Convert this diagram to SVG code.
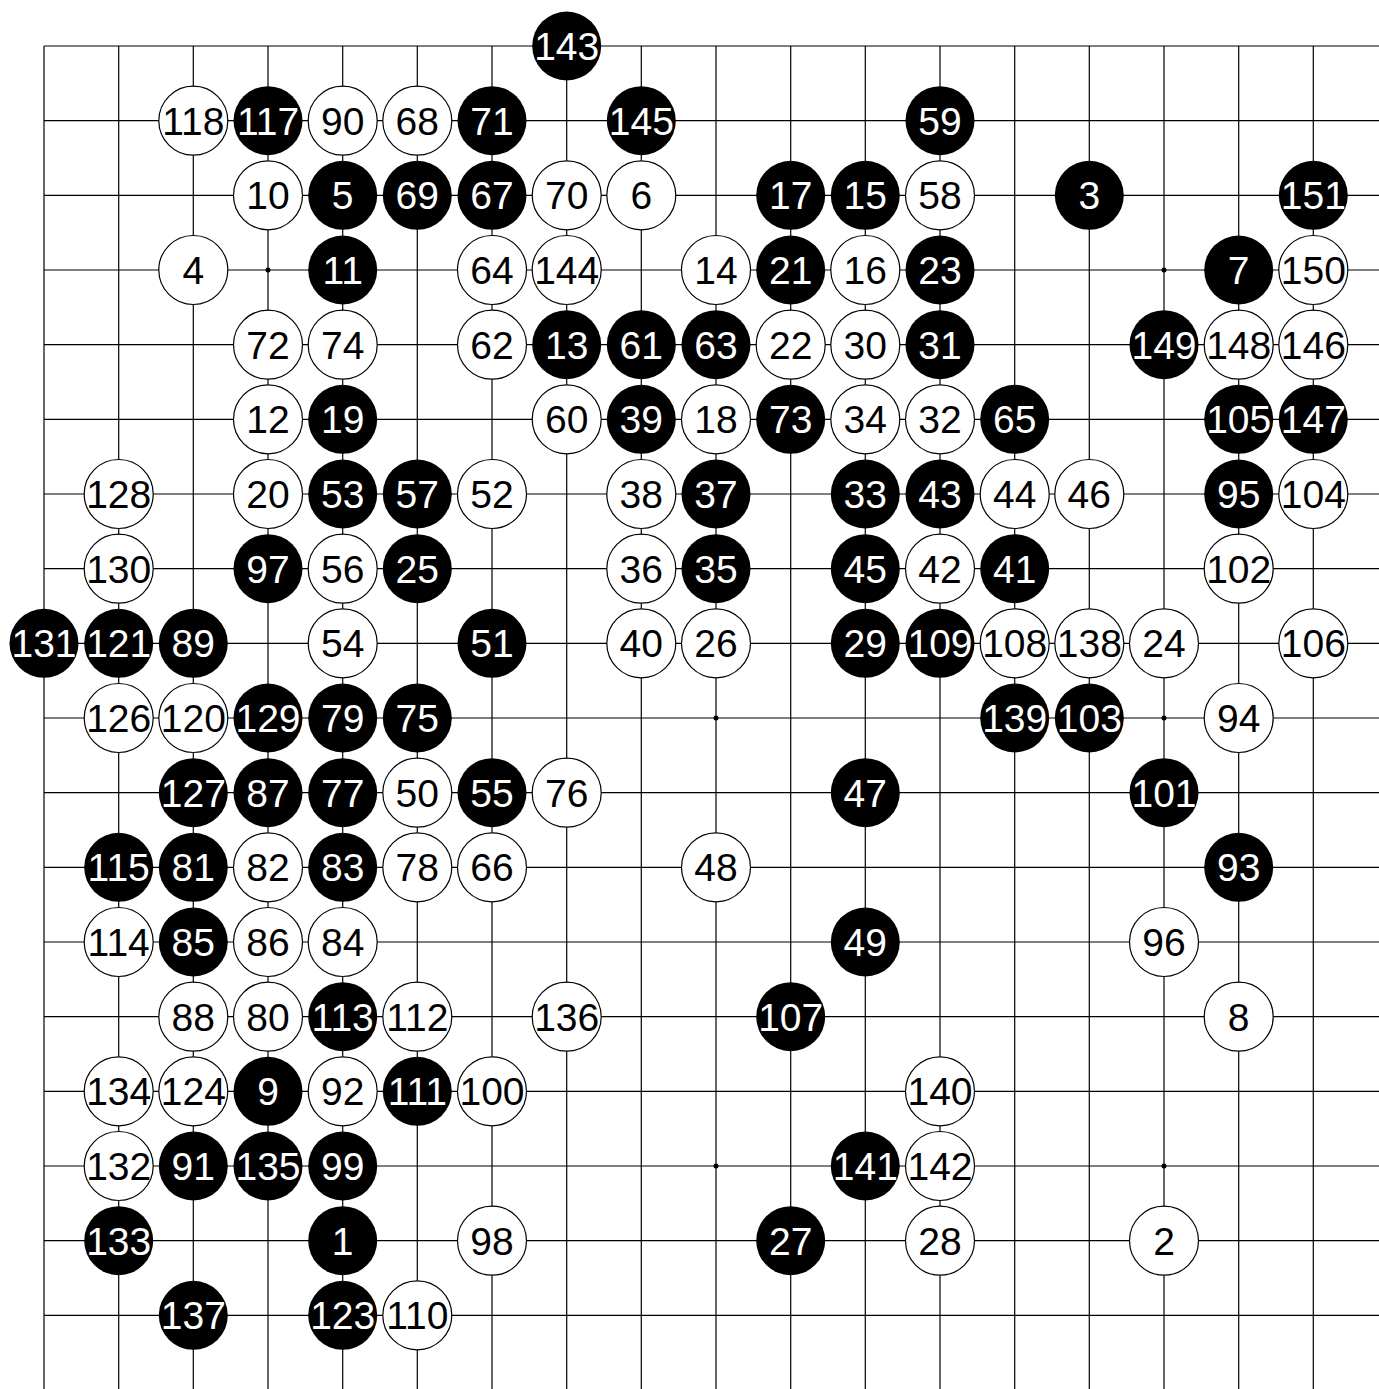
<svg xmlns="http://www.w3.org/2000/svg" width="1379" height="1389" viewBox="0 0 1379 1389">
<style>
.g line{stroke:#000;stroke-width:1.2}
.b{fill:#000}
.w{fill:#fff;stroke:#000;stroke-width:1.2}
text{font-family:"Liberation Sans",Arial,sans-serif;font-size:39px;text-anchor:middle}
.tb{fill:#fff}
.tw{fill:#000}
</style>
<rect width="1379" height="1389" fill="#fff"/>
<g id="grid" class="g">
<line x1="44" y1="46" x2="44" y2="1389" stroke-width="1.5"/>
<line x1="118.7" y1="46" x2="118.7" y2="1389"/>
<line x1="193.3" y1="46" x2="193.3" y2="1389"/>
<line x1="268" y1="46" x2="268" y2="1389"/>
<line x1="342.7" y1="46" x2="342.7" y2="1389"/>
<line x1="417.3" y1="46" x2="417.3" y2="1389"/>
<line x1="492" y1="46" x2="492" y2="1389"/>
<line x1="566.7" y1="46" x2="566.7" y2="1389"/>
<line x1="641.3" y1="46" x2="641.3" y2="1389"/>
<line x1="716" y1="46" x2="716" y2="1389"/>
<line x1="790.7" y1="46" x2="790.7" y2="1389"/>
<line x1="865.3" y1="46" x2="865.3" y2="1389"/>
<line x1="940" y1="46" x2="940" y2="1389"/>
<line x1="1014.7" y1="46" x2="1014.7" y2="1389"/>
<line x1="1089.3" y1="46" x2="1089.3" y2="1389"/>
<line x1="1164" y1="46" x2="1164" y2="1389"/>
<line x1="1238.7" y1="46" x2="1238.7" y2="1389"/>
<line x1="1313.3" y1="46" x2="1313.3" y2="1389"/>
<line x1="44" y1="46" x2="1379" y2="46" stroke-width="1.5"/>
<line x1="44" y1="120.7" x2="1379" y2="120.7"/>
<line x1="44" y1="195.3" x2="1379" y2="195.3"/>
<line x1="44" y1="270" x2="1379" y2="270"/>
<line x1="44" y1="344.7" x2="1379" y2="344.7"/>
<line x1="44" y1="419.3" x2="1379" y2="419.3"/>
<line x1="44" y1="494" x2="1379" y2="494"/>
<line x1="44" y1="568.7" x2="1379" y2="568.7"/>
<line x1="44" y1="643.3" x2="1379" y2="643.3"/>
<line x1="44" y1="718" x2="1379" y2="718"/>
<line x1="44" y1="792.7" x2="1379" y2="792.7"/>
<line x1="44" y1="867.3" x2="1379" y2="867.3"/>
<line x1="44" y1="942" x2="1379" y2="942"/>
<line x1="44" y1="1016.7" x2="1379" y2="1016.7"/>
<line x1="44" y1="1091.3" x2="1379" y2="1091.3"/>
<line x1="44" y1="1166" x2="1379" y2="1166"/>
<line x1="44" y1="1240.7" x2="1379" y2="1240.7"/>
<line x1="44" y1="1315.3" x2="1379" y2="1315.3"/>
</g>
<g id="stars" fill="#000">
<circle cx="268" cy="270" r="2.5"/><circle cx="716" cy="270" r="2.5"/><circle cx="1164" cy="270" r="2.5"/>
<circle cx="268" cy="718" r="2.5"/><circle cx="716" cy="718" r="2.5"/><circle cx="1164" cy="718" r="2.5"/>
<circle cx="268" cy="1166" r="2.5"/><circle cx="716" cy="1166" r="2.5"/><circle cx="1164" cy="1166" r="2.5"/>
</g>
<g id="stones">
<g id="m143" transform="translate(566.7,46)"><circle class="b" r="34.5"/><text class="tb" y="14">143</text></g>
<g id="m118" transform="translate(193.3,120.7)"><circle class="w" r="34.5"/><text class="tw" y="14">118</text></g>
<g id="m117" transform="translate(268,120.7)"><circle class="b" r="34.5"/><text class="tb" y="14">117</text></g>
<g id="m90" transform="translate(342.7,120.7)"><circle class="w" r="34.5"/><text class="tw" y="14">90</text></g>
<g id="m68" transform="translate(417.3,120.7)"><circle class="w" r="34.5"/><text class="tw" y="14">68</text></g>
<g id="m71" transform="translate(492,120.7)"><circle class="b" r="34.5"/><text class="tb" y="14">71</text></g>
<g id="m145" transform="translate(641.3,120.7)"><circle class="b" r="34.5"/><text class="tb" y="14">145</text></g>
<g id="m59" transform="translate(940,120.7)"><circle class="b" r="34.5"/><text class="tb" y="14">59</text></g>
<g id="m10" transform="translate(268,195.3)"><circle class="w" r="34.5"/><text class="tw" y="14">10</text></g>
<g id="m5" transform="translate(342.7,195.3)"><circle class="b" r="34.5"/><text class="tb" y="14">5</text></g>
<g id="m69" transform="translate(417.3,195.3)"><circle class="b" r="34.5"/><text class="tb" y="14">69</text></g>
<g id="m67" transform="translate(492,195.3)"><circle class="b" r="34.5"/><text class="tb" y="14">67</text></g>
<g id="m70" transform="translate(566.7,195.3)"><circle class="w" r="34.5"/><text class="tw" y="14">70</text></g>
<g id="m6" transform="translate(641.3,195.3)"><circle class="w" r="34.5"/><text class="tw" y="14">6</text></g>
<g id="m17" transform="translate(790.7,195.3)"><circle class="b" r="34.5"/><text class="tb" y="14">17</text></g>
<g id="m15" transform="translate(865.3,195.3)"><circle class="b" r="34.5"/><text class="tb" y="14">15</text></g>
<g id="m58" transform="translate(940,195.3)"><circle class="w" r="34.5"/><text class="tw" y="14">58</text></g>
<g id="m3" transform="translate(1089.3,195.3)"><circle class="b" r="34.5"/><text class="tb" y="14">3</text></g>
<g id="m151" transform="translate(1313.3,195.3)"><circle class="b" r="34.5"/><text class="tb" y="14">151</text></g>
<g id="m4" transform="translate(193.3,270)"><circle class="w" r="34.5"/><text class="tw" y="14">4</text></g>
<g id="m11" transform="translate(342.7,270)"><circle class="b" r="34.5"/><text class="tb" y="14">11</text></g>
<g id="m64" transform="translate(492,270)"><circle class="w" r="34.5"/><text class="tw" y="14">64</text></g>
<g id="m144" transform="translate(566.7,270)"><circle class="w" r="34.5"/><text class="tw" y="14">144</text></g>
<g id="m14" transform="translate(716,270)"><circle class="w" r="34.5"/><text class="tw" y="14">14</text></g>
<g id="m21" transform="translate(790.7,270)"><circle class="b" r="34.5"/><text class="tb" y="14">21</text></g>
<g id="m16" transform="translate(865.3,270)"><circle class="w" r="34.5"/><text class="tw" y="14">16</text></g>
<g id="m23" transform="translate(940,270)"><circle class="b" r="34.5"/><text class="tb" y="14">23</text></g>
<g id="m7" transform="translate(1238.7,270)"><circle class="b" r="34.5"/><text class="tb" y="14">7</text></g>
<g id="m150" transform="translate(1313.3,270)"><circle class="w" r="34.5"/><text class="tw" y="14">150</text></g>
<g id="m72" transform="translate(268,344.7)"><circle class="w" r="34.5"/><text class="tw" y="14">72</text></g>
<g id="m74" transform="translate(342.7,344.7)"><circle class="w" r="34.5"/><text class="tw" y="14">74</text></g>
<g id="m62" transform="translate(492,344.7)"><circle class="w" r="34.5"/><text class="tw" y="14">62</text></g>
<g id="m13" transform="translate(566.7,344.7)"><circle class="b" r="34.5"/><text class="tb" y="14">13</text></g>
<g id="m61" transform="translate(641.3,344.7)"><circle class="b" r="34.5"/><text class="tb" y="14">61</text></g>
<g id="m63" transform="translate(716,344.7)"><circle class="b" r="34.5"/><text class="tb" y="14">63</text></g>
<g id="m22" transform="translate(790.7,344.7)"><circle class="w" r="34.5"/><text class="tw" y="14">22</text></g>
<g id="m30" transform="translate(865.3,344.7)"><circle class="w" r="34.5"/><text class="tw" y="14">30</text></g>
<g id="m31" transform="translate(940,344.7)"><circle class="b" r="34.5"/><text class="tb" y="14">31</text></g>
<g id="m149" transform="translate(1164,344.7)"><circle class="b" r="34.5"/><text class="tb" y="14">149</text></g>
<g id="m148" transform="translate(1238.7,344.7)"><circle class="w" r="34.5"/><text class="tw" y="14">148</text></g>
<g id="m146" transform="translate(1313.3,344.7)"><circle class="w" r="34.5"/><text class="tw" y="14">146</text></g>
<g id="m12" transform="translate(268,419.3)"><circle class="w" r="34.5"/><text class="tw" y="14">12</text></g>
<g id="m19" transform="translate(342.7,419.3)"><circle class="b" r="34.5"/><text class="tb" y="14">19</text></g>
<g id="m60" transform="translate(566.7,419.3)"><circle class="w" r="34.5"/><text class="tw" y="14">60</text></g>
<g id="m39" transform="translate(641.3,419.3)"><circle class="b" r="34.5"/><text class="tb" y="14">39</text></g>
<g id="m18" transform="translate(716,419.3)"><circle class="w" r="34.5"/><text class="tw" y="14">18</text></g>
<g id="m73" transform="translate(790.7,419.3)"><circle class="b" r="34.5"/><text class="tb" y="14">73</text></g>
<g id="m34" transform="translate(865.3,419.3)"><circle class="w" r="34.5"/><text class="tw" y="14">34</text></g>
<g id="m32" transform="translate(940,419.3)"><circle class="w" r="34.5"/><text class="tw" y="14">32</text></g>
<g id="m65" transform="translate(1014.7,419.3)"><circle class="b" r="34.5"/><text class="tb" y="14">65</text></g>
<g id="m105" transform="translate(1238.7,419.3)"><circle class="b" r="34.5"/><text class="tb" y="14">105</text></g>
<g id="m147" transform="translate(1313.3,419.3)"><circle class="b" r="34.5"/><text class="tb" y="14">147</text></g>
<g id="m128" transform="translate(118.7,494)"><circle class="w" r="34.5"/><text class="tw" y="14">128</text></g>
<g id="m20" transform="translate(268,494)"><circle class="w" r="34.5"/><text class="tw" y="14">20</text></g>
<g id="m53" transform="translate(342.7,494)"><circle class="b" r="34.5"/><text class="tb" y="14">53</text></g>
<g id="m57" transform="translate(417.3,494)"><circle class="b" r="34.5"/><text class="tb" y="14">57</text></g>
<g id="m52" transform="translate(492,494)"><circle class="w" r="34.5"/><text class="tw" y="14">52</text></g>
<g id="m38" transform="translate(641.3,494)"><circle class="w" r="34.5"/><text class="tw" y="14">38</text></g>
<g id="m37" transform="translate(716,494)"><circle class="b" r="34.5"/><text class="tb" y="14">37</text></g>
<g id="m33" transform="translate(865.3,494)"><circle class="b" r="34.5"/><text class="tb" y="14">33</text></g>
<g id="m43" transform="translate(940,494)"><circle class="b" r="34.5"/><text class="tb" y="14">43</text></g>
<g id="m44" transform="translate(1014.7,494)"><circle class="w" r="34.5"/><text class="tw" y="14">44</text></g>
<g id="m46" transform="translate(1089.3,494)"><circle class="w" r="34.5"/><text class="tw" y="14">46</text></g>
<g id="m95" transform="translate(1238.7,494)"><circle class="b" r="34.5"/><text class="tb" y="14">95</text></g>
<g id="m104" transform="translate(1313.3,494)"><circle class="w" r="34.5"/><text class="tw" y="14">104</text></g>
<g id="m130" transform="translate(118.7,568.7)"><circle class="w" r="34.5"/><text class="tw" y="14">130</text></g>
<g id="m97" transform="translate(268,568.7)"><circle class="b" r="34.5"/><text class="tb" y="14">97</text></g>
<g id="m56" transform="translate(342.7,568.7)"><circle class="w" r="34.5"/><text class="tw" y="14">56</text></g>
<g id="m25" transform="translate(417.3,568.7)"><circle class="b" r="34.5"/><text class="tb" y="14">25</text></g>
<g id="m36" transform="translate(641.3,568.7)"><circle class="w" r="34.5"/><text class="tw" y="14">36</text></g>
<g id="m35" transform="translate(716,568.7)"><circle class="b" r="34.5"/><text class="tb" y="14">35</text></g>
<g id="m45" transform="translate(865.3,568.7)"><circle class="b" r="34.5"/><text class="tb" y="14">45</text></g>
<g id="m42" transform="translate(940,568.7)"><circle class="w" r="34.5"/><text class="tw" y="14">42</text></g>
<g id="m41" transform="translate(1014.7,568.7)"><circle class="b" r="34.5"/><text class="tb" y="14">41</text></g>
<g id="m102" transform="translate(1238.7,568.7)"><circle class="w" r="34.5"/><text class="tw" y="14">102</text></g>
<g id="m131" transform="translate(44,643.3)"><circle class="b" r="34.5"/><text class="tb" y="14">131</text></g>
<g id="m121" transform="translate(118.7,643.3)"><circle class="b" r="34.5"/><text class="tb" y="14">121</text></g>
<g id="m89" transform="translate(193.3,643.3)"><circle class="b" r="34.5"/><text class="tb" y="14">89</text></g>
<g id="m54" transform="translate(342.7,643.3)"><circle class="w" r="34.5"/><text class="tw" y="14">54</text></g>
<g id="m51" transform="translate(492,643.3)"><circle class="b" r="34.5"/><text class="tb" y="14">51</text></g>
<g id="m40" transform="translate(641.3,643.3)"><circle class="w" r="34.5"/><text class="tw" y="14">40</text></g>
<g id="m26" transform="translate(716,643.3)"><circle class="w" r="34.5"/><text class="tw" y="14">26</text></g>
<g id="m29" transform="translate(865.3,643.3)"><circle class="b" r="34.5"/><text class="tb" y="14">29</text></g>
<g id="m109" transform="translate(940,643.3)"><circle class="b" r="34.5"/><text class="tb" y="14">109</text></g>
<g id="m108" transform="translate(1014.7,643.3)"><circle class="w" r="34.5"/><text class="tw" y="14">108</text></g>
<g id="m138" transform="translate(1089.3,643.3)"><circle class="w" r="34.5"/><text class="tw" y="14">138</text></g>
<g id="m24" transform="translate(1164,643.3)"><circle class="w" r="34.5"/><text class="tw" y="14">24</text></g>
<g id="m106" transform="translate(1313.3,643.3)"><circle class="w" r="34.5"/><text class="tw" y="14">106</text></g>
<g id="m126" transform="translate(118.7,718)"><circle class="w" r="34.5"/><text class="tw" y="14">126</text></g>
<g id="m120" transform="translate(193.3,718)"><circle class="w" r="34.5"/><text class="tw" y="14">120</text></g>
<g id="m129" transform="translate(268,718)"><circle class="b" r="34.5"/><text class="tb" y="14">129</text></g>
<g id="m79" transform="translate(342.7,718)"><circle class="b" r="34.5"/><text class="tb" y="14">79</text></g>
<g id="m75" transform="translate(417.3,718)"><circle class="b" r="34.5"/><text class="tb" y="14">75</text></g>
<g id="m139" transform="translate(1014.7,718)"><circle class="b" r="34.5"/><text class="tb" y="14">139</text></g>
<g id="m103" transform="translate(1089.3,718)"><circle class="b" r="34.5"/><text class="tb" y="14">103</text></g>
<g id="m94" transform="translate(1238.7,718)"><circle class="w" r="34.5"/><text class="tw" y="14">94</text></g>
<g id="m127" transform="translate(193.3,792.7)"><circle class="b" r="34.5"/><text class="tb" y="14">127</text></g>
<g id="m87" transform="translate(268,792.7)"><circle class="b" r="34.5"/><text class="tb" y="14">87</text></g>
<g id="m77" transform="translate(342.7,792.7)"><circle class="b" r="34.5"/><text class="tb" y="14">77</text></g>
<g id="m50" transform="translate(417.3,792.7)"><circle class="w" r="34.5"/><text class="tw" y="14">50</text></g>
<g id="m55" transform="translate(492,792.7)"><circle class="b" r="34.5"/><text class="tb" y="14">55</text></g>
<g id="m76" transform="translate(566.7,792.7)"><circle class="w" r="34.5"/><text class="tw" y="14">76</text></g>
<g id="m47" transform="translate(865.3,792.7)"><circle class="b" r="34.5"/><text class="tb" y="14">47</text></g>
<g id="m101" transform="translate(1164,792.7)"><circle class="b" r="34.5"/><text class="tb" y="14">101</text></g>
<g id="m115" transform="translate(118.7,867.3)"><circle class="b" r="34.5"/><text class="tb" y="14">115</text></g>
<g id="m81" transform="translate(193.3,867.3)"><circle class="b" r="34.5"/><text class="tb" y="14">81</text></g>
<g id="m82" transform="translate(268,867.3)"><circle class="w" r="34.5"/><text class="tw" y="14">82</text></g>
<g id="m83" transform="translate(342.7,867.3)"><circle class="b" r="34.5"/><text class="tb" y="14">83</text></g>
<g id="m78" transform="translate(417.3,867.3)"><circle class="w" r="34.5"/><text class="tw" y="14">78</text></g>
<g id="m66" transform="translate(492,867.3)"><circle class="w" r="34.5"/><text class="tw" y="14">66</text></g>
<g id="m48" transform="translate(716,867.3)"><circle class="w" r="34.5"/><text class="tw" y="14">48</text></g>
<g id="m93" transform="translate(1238.7,867.3)"><circle class="b" r="34.5"/><text class="tb" y="14">93</text></g>
<g id="m114" transform="translate(118.7,942)"><circle class="w" r="34.5"/><text class="tw" y="14">114</text></g>
<g id="m85" transform="translate(193.3,942)"><circle class="b" r="34.5"/><text class="tb" y="14">85</text></g>
<g id="m86" transform="translate(268,942)"><circle class="w" r="34.5"/><text class="tw" y="14">86</text></g>
<g id="m84" transform="translate(342.7,942)"><circle class="w" r="34.5"/><text class="tw" y="14">84</text></g>
<g id="m49" transform="translate(865.3,942)"><circle class="b" r="34.5"/><text class="tb" y="14">49</text></g>
<g id="m96" transform="translate(1164,942)"><circle class="w" r="34.5"/><text class="tw" y="14">96</text></g>
<g id="m88" transform="translate(193.3,1016.7)"><circle class="w" r="34.5"/><text class="tw" y="14">88</text></g>
<g id="m80" transform="translate(268,1016.7)"><circle class="w" r="34.5"/><text class="tw" y="14">80</text></g>
<g id="m113" transform="translate(342.7,1016.7)"><circle class="b" r="34.5"/><text class="tb" y="14">113</text></g>
<g id="m112" transform="translate(417.3,1016.7)"><circle class="w" r="34.5"/><text class="tw" y="14">112</text></g>
<g id="m136" transform="translate(566.7,1016.7)"><circle class="w" r="34.5"/><text class="tw" y="14">136</text></g>
<g id="m107" transform="translate(790.7,1016.7)"><circle class="b" r="34.5"/><text class="tb" y="14">107</text></g>
<g id="m8" transform="translate(1238.7,1016.7)"><circle class="w" r="34.5"/><text class="tw" y="14">8</text></g>
<g id="m134" transform="translate(118.7,1091.3)"><circle class="w" r="34.5"/><text class="tw" y="14">134</text></g>
<g id="m124" transform="translate(193.3,1091.3)"><circle class="w" r="34.5"/><text class="tw" y="14">124</text></g>
<g id="m9" transform="translate(268,1091.3)"><circle class="b" r="34.5"/><text class="tb" y="14">9</text></g>
<g id="m92" transform="translate(342.7,1091.3)"><circle class="w" r="34.5"/><text class="tw" y="14">92</text></g>
<g id="m111" transform="translate(417.3,1091.3)"><circle class="b" r="34.5"/><text class="tb" y="14">111</text></g>
<g id="m100" transform="translate(492,1091.3)"><circle class="w" r="34.5"/><text class="tw" y="14">100</text></g>
<g id="m140" transform="translate(940,1091.3)"><circle class="w" r="34.5"/><text class="tw" y="14">140</text></g>
<g id="m132" transform="translate(118.7,1166)"><circle class="w" r="34.5"/><text class="tw" y="14">132</text></g>
<g id="m91" transform="translate(193.3,1166)"><circle class="b" r="34.5"/><text class="tb" y="14">91</text></g>
<g id="m135" transform="translate(268,1166)"><circle class="b" r="34.5"/><text class="tb" y="14">135</text></g>
<g id="m99" transform="translate(342.7,1166)"><circle class="b" r="34.5"/><text class="tb" y="14">99</text></g>
<g id="m141" transform="translate(865.3,1166)"><circle class="b" r="34.5"/><text class="tb" y="14">141</text></g>
<g id="m142" transform="translate(940,1166)"><circle class="w" r="34.5"/><text class="tw" y="14">142</text></g>
<g id="m133" transform="translate(118.7,1240.7)"><circle class="b" r="34.5"/><text class="tb" y="14">133</text></g>
<g id="m1" transform="translate(342.7,1240.7)"><circle class="b" r="34.5"/><text class="tb" y="14">1</text></g>
<g id="m98" transform="translate(492,1240.7)"><circle class="w" r="34.5"/><text class="tw" y="14">98</text></g>
<g id="m27" transform="translate(790.7,1240.7)"><circle class="b" r="34.5"/><text class="tb" y="14">27</text></g>
<g id="m28" transform="translate(940,1240.7)"><circle class="w" r="34.5"/><text class="tw" y="14">28</text></g>
<g id="m2" transform="translate(1164,1240.7)"><circle class="w" r="34.5"/><text class="tw" y="14">2</text></g>
<g id="m137" transform="translate(193.3,1315.3)"><circle class="b" r="34.5"/><text class="tb" y="14">137</text></g>
<g id="m123" transform="translate(342.7,1315.3)"><circle class="b" r="34.5"/><text class="tb" y="14">123</text></g>
<g id="m110" transform="translate(417.3,1315.3)"><circle class="w" r="34.5"/><text class="tw" y="14">110</text></g>
</g>
</svg>
